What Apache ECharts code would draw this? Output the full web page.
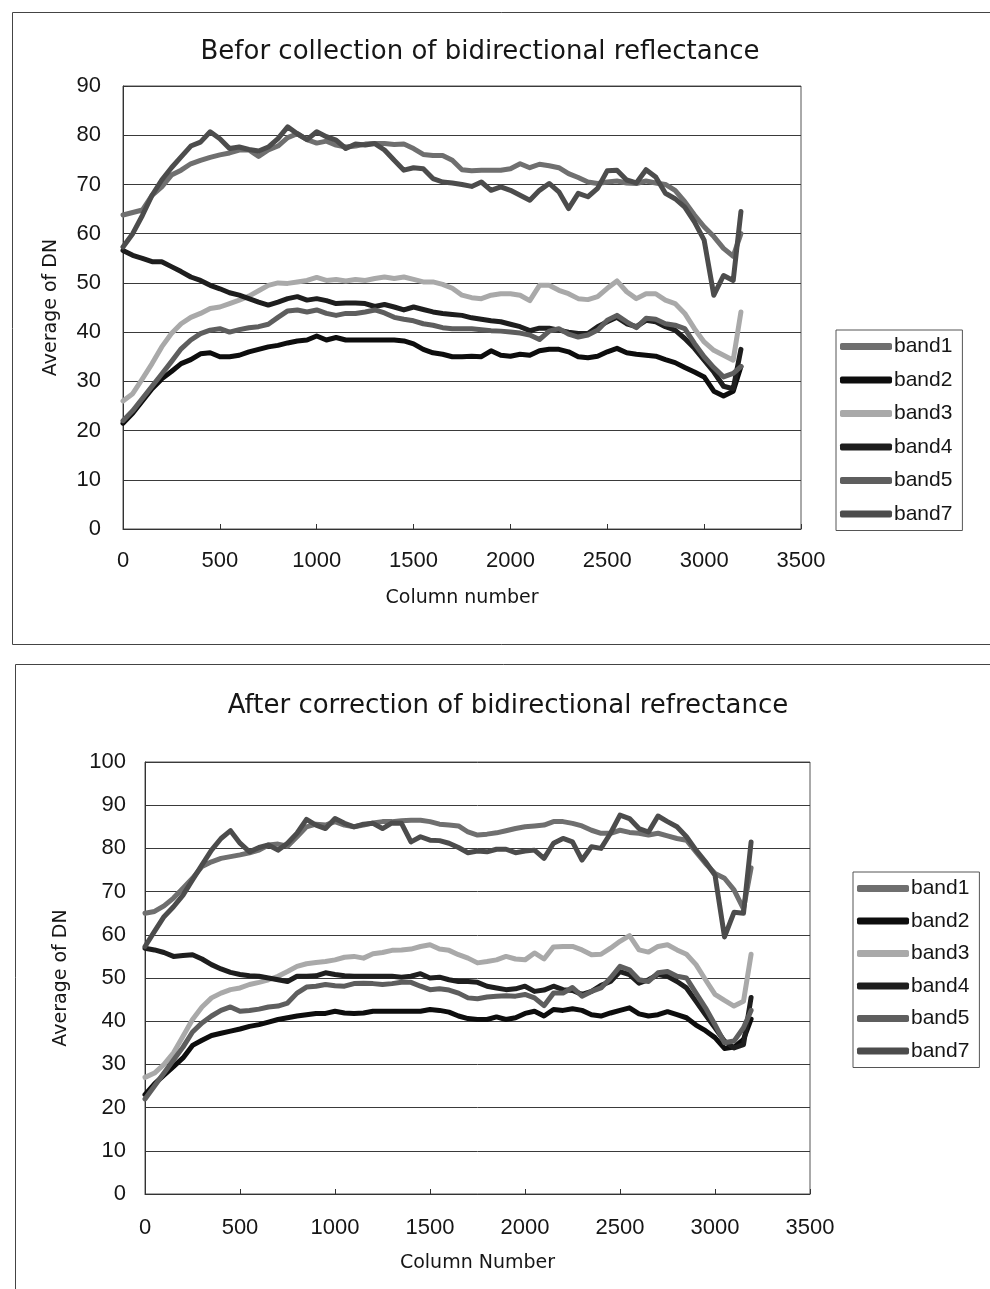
<!DOCTYPE html>
<html>
<head>
<meta charset="utf-8">
<script src="https://cdn.jsdelivr.net/npm/echarts@6/dist/echarts.min.js"></script>
<style>
html,body{margin:0;padding:0;background:#fff;}
#chart{width:990px;height:1289px;}
</style>
</head>
<body>
<div id="chart"></div>
<script>
// Column numbers (x positions of samples)
const columns = [0,50,100,150,200,250,300,350,400,450,500,550,600,650,700,750,800,850,900,950,
  1000,1050,1100,1150,1200,1250,1300,1350,1400,1450,1500,1550,1600,1650,1700,1750,1800,1850,1900,1950,
  2000,2050,2100,2150,2200,2250,2300,2350,2400,2450,2500,2550,2600,2650,2700,2750,2800,2850,2900,2950,
  3000,3050,3100,3150,3190];

const bandNames = ['band1','band2','band3','band4','band5','band7'];
const xTicks = [0,500,1000,1500,2000,2500,3000,3500];

// ---- Before correction ----
const b1Before = [63.8,64.3,64.8,67.8,69.5,71.9,72.9,74.2,74.9,75.5,
 76,76.4,77,77,75.7,77,77.8,79.5,80.3,79.1,
 78.4,78.8,78,77.6,77.8,78.2,78.3,78.3,78.1,78.2,
 77.3,76.1,75.9,75.9,74.9,73,72.8,72.9,72.9,72.9,
 73.2,74.2,73.4,74.1,73.8,73.4,72.2,71.4,70.5,70.2,
 70.5,70.7,70.3,70.2,70.7,70.3,70,68.8,66.5,63.8,
 61.4,59.4,57,55.4,60];
const b2Before = [21.5,23.5,26,28.5,30.5,32,33.6,34.4,35.6,35.8,
 35,35,35.3,36,36.5,37,37.3,37.8,38.2,38.4,
 39.2,38.4,38.9,38.4,38.4,38.4,38.4,38.4,38.4,38.2,
 37.6,36.5,35.8,35.5,35,35,35.1,35,36.2,35.3,
 35.1,35.5,35.3,36.2,36.5,36.5,36,35,34.8,35.1,
 36,36.7,35.8,35.5,35.3,35.1,34.4,33.8,32.8,31.9,
 30.9,28,27,28,33];
const b3Before = [26,27.5,30.5,33.6,37,39.7,41.7,43,43.8,44.8,
 45.1,45.8,46.5,47.3,48.4,49.5,50,49.9,50.2,50.5,
 51.1,50.5,50.7,50.4,50.7,50.5,50.9,51.2,50.9,51.2,
 50.7,50.2,50.2,49.7,48.9,47.5,47,46.8,47.5,47.8,
 47.8,47.5,46.4,49.5,49.5,48.5,47.8,46.8,46.6,47.2,
 48.9,50.4,48.2,46.8,47.8,47.8,46.5,45.8,43.8,40.7,
 38,36.3,35.3,34.3,44.1];
const b4Before = [56.6,55.6,55,54.3,54.3,53.3,52.3,51.2,50.5,49.5,
 48.8,48,47.5,46.8,46.1,45.5,46.1,46.8,47.2,46.5,
 46.8,46.4,45.8,45.9,45.9,45.8,45.2,45.6,45.1,44.5,
 45.1,44.6,44.1,43.8,43.6,43.4,42.9,42.6,42.3,42.1,
 41.6,41.1,40.3,40.8,40.8,40.4,40,39.7,39.7,41.1,
 42.1,43,41.7,41.1,42.4,42.1,41.1,40.4,38.7,36.7,
 34.3,31.9,29,28.5,36.5];
const b5Before = [22,24,26.5,29,31.5,34,36.6,38.4,39.7,40.4,
 40.7,40,40.5,40.9,41.1,41.6,43,44.3,44.5,44.1,
 44.5,43.8,43.4,43.8,43.8,44.1,44.5,43.9,43,42.6,
 42.3,41.7,41.4,40.9,40.7,40.7,40.7,40.5,40.3,40.2,
 40,39.8,39.4,38.5,40.2,40.7,39.6,39,39.4,40.4,
 42.4,43.4,42.1,40.9,42.8,42.6,41.7,41.4,40.7,37.7,
 35,32.8,30.9,31.6,33];
const b7Before = [57.3,60,63.7,67.8,70.9,73.4,75.6,77.8,78.6,80.7,
 79.3,77.3,77.6,77.1,76.8,77.6,79.3,81.7,80.3,79.1,
 80.7,79.7,79,77.3,78.2,78,78.3,77,74.9,72.9,
 73.4,73.2,71.2,70.5,70.3,70,69.6,70.5,68.8,69.5,
 68.8,67.8,66.8,68.8,70.2,68.5,65.1,68.2,67.5,69.2,
 72.8,72.9,70.9,70.3,73,71.5,68.2,67.1,65.4,62.4,
 58.7,47.5,51.5,50.5,64.5];

// ---- After correction ----
const b1After = [65,65.4,66.7,68.5,70.8,73.1,75.8,76.9,77.7,78.1,
 78.5,79,79.6,80.8,81,80.5,82.7,85,85.6,85.4,
 86.2,85.4,85,85.4,85.9,86.2,86.2,86.4,86.5,86.5,
 86.2,85.6,85.4,85.2,83.8,83.1,83.3,83.6,84.1,84.6,
 85,85.2,85.4,86.2,86.2,85.8,85.2,84.2,83.5,83.5,
 84.2,83.7,83.5,83.1,83.5,82.9,82.3,81.9,79.2,76.5,
 74.2,73.1,70.4,66,75.5];
const b2After = [23,25.5,27.5,29.5,31.5,34.4,35.6,36.7,37.2,37.7,
 38.2,38.8,39.2,39.8,40.4,40.8,41.2,41.5,41.8,41.8,
 42.3,41.9,41.8,41.9,42.3,42.3,42.3,42.3,42.3,42.3,
 42.7,42.5,42.1,41.2,40.6,40.4,40.4,41,40.4,40.8,
 41.8,42.3,41.2,42.7,42.5,42.9,42.5,41.5,41.2,41.9,
 42.5,43.1,41.7,41.2,41.5,42.2,41.5,40.8,39.1,37.8,
 36.2,33.7,34,35.8,40.5];
const b3After = [27,28,30,32.7,36.5,40.4,43.3,45.4,46.5,47.3,
 47.7,48.5,49,49.6,50.4,51.5,52.7,53.3,53.6,53.8,
 54.2,54.8,55,54.6,55.6,55.9,56.4,56.5,56.7,57.3,
 57.7,56.7,56.4,55.4,54.6,53.5,53.8,54.2,55,54.4,
 54.2,55.8,54.4,57.2,57.3,57.3,56.5,55.4,55.5,56.9,
 58.5,59.8,56.5,56,57.3,57.7,56.5,55.5,53.1,49.6,
 46.2,44.8,43.5,44.6,55.5];
const b4After = [56.9,56.5,55.9,55,55.2,55.4,54.4,53.1,52.1,51.3,
 50.8,50.5,50.4,50,49.6,49.2,50.4,50.4,50.5,51.2,
 50.8,50.5,50.4,50.4,50.4,50.4,50.4,50.2,50.4,51,
 50,50.2,49.6,49.2,49.2,49,48.1,47.7,47.3,47.5,
 48.1,46.9,47.2,48.1,47.3,47.1,46.2,46.9,48.3,49.2,
 51.5,50.8,48.8,49.6,50.8,50.4,49.2,47.7,44.6,41.5,
 38.5,35.4,33.8,34.6,45.5];
const b5After = [22,25,28,31,34,37.5,39.6,41.2,42.5,43.3,
 42.3,42.5,42.8,43.3,43.5,44.2,46.5,47.9,48.1,48.5,
 48.2,48.1,48.7,48.8,48.7,48.5,48.7,49,49,48.1,
 47.3,47.5,47.2,46.5,45.4,45.2,45.6,45.8,45.9,45.8,
 46.2,45.4,43.6,46.5,46.5,47.8,45.8,46.9,47.7,50,
 52.7,51.9,49.6,49.2,51.2,51.5,50.4,50,46.5,43.1,
 39.2,35,35.4,38.5,42.5];
const b7After = [57.3,60.8,64.2,66.5,69.2,72.7,76.2,79.6,82.3,84.1,
 81.2,79.2,80.2,80.8,79.6,81.2,83.5,86.7,85.4,84.6,
 86.9,85.8,85,85.6,85.8,84.6,85.9,85.8,81.5,82.7,
 81.9,81.8,81.2,80.2,79,79.4,79.2,79.8,79.8,79,
 79.4,79.6,77.7,81.2,82.3,81.5,77.3,80.4,80,83.5,
 87.7,86.9,84.6,83.8,87.5,86.2,85,82.7,79.6,76.9,
 73.8,59.5,65.2,65,81.5];

const bandColors = ['#6f6f6f','#0d0d0d','#a9a9a9','#1e1e1e','#5e5e5e','#4c4c4c'];
const beforeSets = [b1Before,b2Before,b3Before,b4Before,b5Before,b7Before];
const afterSets = [b1After,b2After,b3After,b4After,b5After,b7After];

const FONT = '"Liberation Sans", Arial, sans-serif';
const WIDE = '"DejaVu Sans", "Liberation Sans", sans-serif';
const TXT = '#161616';

function pairs(vals){ return columns.map((c,i)=>[c, vals[i]]); }

function mkSeries(sets, gi){
  return sets.map((vals, k)=>({
    name: bandNames[k], type:'line', xAxisIndex: gi, yAxisIndex: gi,
    data: pairs(vals), showSymbol:false, symbol:'none', smooth:false,
    lineStyle:{color: bandColors[k], width:5, cap:'round', join:'round'},
    itemStyle:{color: bandColors[k]}, animation:false
  }));
}

function xAxis(gi, name, margin){
  return {gridIndex:gi, type:'value', min:0, max:3500, interval:500,
    name:name, nameLocation:'middle', nameGap:60,
    nameTextStyle:{fontFamily:WIDE, fontSize:19, color:TXT},
    axisLine:{lineStyle:{color:'#333', width:1}},
    axisTick:{inside:true, length:5, lineStyle:{color:'#333'}},
    axisLabel:{fontFamily:FONT, fontSize:22, color:TXT, margin:margin,
      formatter:(v)=>String(v)},
    splitLine:{show:false}};
}
function yAxis(gi, max, gap, margin){
  return {gridIndex:gi, type:'value', min:0, max:max, interval:10,
    name:'Average of DN', nameLocation:'middle', nameGap:gap,
    nameTextStyle:{fontFamily:WIDE, fontSize:19, color:TXT},
    axisLine:{show:true, lineStyle:{color:'#333', width:1}},
    axisTick:{show:true, inside:true, length:5, lineStyle:{color:'#333'}},
    axisLabel:{fontFamily:FONT, fontSize:22, color:TXT, margin:margin,
      formatter:(v)=>String(v)},
    splitLine:{show:true, lineStyle:{color:'#3a3a3a', width:1}}};
}
function legend(left, top, gap){
  return {orient:'vertical', left:left, top:top, data:bandNames,
    icon:'roundRect', itemWidth:52, itemHeight:7, itemGap:gap,
    padding:[6,10,6,4], borderColor:'#555', borderWidth:1, backgroundColor:'#fff',
    textStyle:{fontFamily:FONT, fontSize:21, color:TXT, padding:[0,0,0,-3]},
    selectedMode:false};
}

const chart = echarts.init(document.getElementById('chart'), null, {renderer:'canvas'});
chart.setOption({
  backgroundColor:'#ffffff',
  animation:false,
  graphic:[
    {type:'rect', shape:{x:12.5, y:12.5, width:990, height:632}, style:{fill:'none', stroke:'#444', lineWidth:1}, z:-10},
    {type:'rect', shape:{x:15.5, y:664.5, width:990, height:700}, style:{fill:'none', stroke:'#444', lineWidth:1}, z:-10}
  ],
  title:[
    {text:'Befor collection of bidirectional reflectance', left:475, top:34, textAlign:'center',
      textStyle:{fontFamily:WIDE, fontSize:26, fontWeight:'normal', color:TXT}},
    {text:'After correction of bidirectional refrectance', left:503, top:688, textAlign:'center',
      textStyle:{fontFamily:WIDE, fontSize:26, fontWeight:'normal', color:TXT}}
  ],
  legend:[legend(836, 330, 12.5), legend(853, 872, 11.5)],
  grid:[
    {left:123, top:86, width:678, height:443, show:true, borderColor:'#555', borderWidth:1, backgroundColor:'transparent'},
    {left:145, top:762, width:665, height:432, show:true, borderColor:'#555', borderWidth:1, backgroundColor:'transparent'}
  ],
  xAxis:[xAxis(0,'Column number',21), xAxis(1,'Column Number',23)],
  yAxis:[yAxis(0,90,62,22), yAxis(1,100,74,19)],
  series: mkSeries(beforeSets,0).concat(mkSeries(afterSets,1))
});
</script>
</body>
</html>
